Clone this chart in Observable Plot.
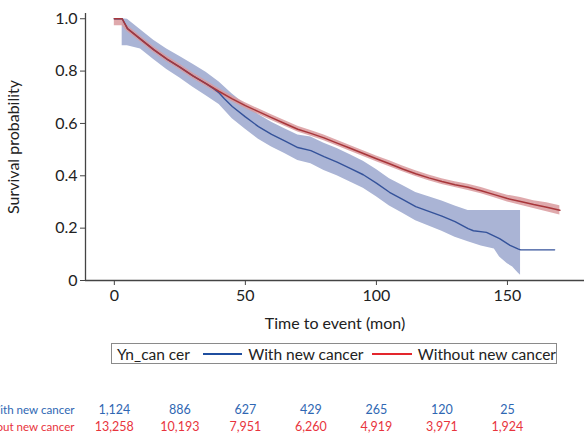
<!DOCTYPE html>
<html>
<head>
<meta charset="utf-8">
<script src="https://cdn.jsdelivr.net/npm/d3@7"></script>
<script src="https://cdn.jsdelivr.net/npm/@observablehq/plot@0.6"></script>
<style>
  html, body { margin: 0; padding: 0; background: #fff; }
  #wrap { position: relative; width: 584px; height: 434px; overflow: hidden; font-family: Lato, sans-serif; }
  #main { position: absolute; left: 0; top: 0; }
  #risk { position: absolute; left: 0; top: 395px; }
  #legend { position: absolute; left: 111px; top: 343px; width: 444px; height: 19px;
    border: 1.5px solid #8a8a8a; display: flex; align-items: center; font-size: 15.5px; color: #222;
    box-sizing: content-box; white-space: nowrap; }
  #legend .sw { display: inline-block; width: 48px; height: 2px; }
</style>
</head>
<body>
<div id="wrap">
  <div id="main"></div>
  <div id="legend"></div>
  <div id="risk"></div>
</div>
<script>
// ---- Data ----
const xTicks = [0, 50, 100, 150];
const yTicks = [0, 0.2, 0.4, 0.6, 0.8, 1.0];
const xDomain = [-11, 179.4];
const yDomain = [0, 1.02];

const legendTitle = "Yn_can cer";
const groupNames = ["With new cancer", "Without new cancer"];

// With new cancer: KM estimate
const blueTime = [0,3,5,10,15,20,25,30,35,38,40,42,45,50,55,60,65,70,75,80,85,90,95,100,105,110,115,120,125,130,135,137,142,147,151,154,155,168];
const blueSurv = [1,1,0.963,0.922,0.882,0.846,0.815,0.782,0.752,0.732,0.716,0.694,0.665,0.625,0.588,0.558,0.533,0.508,0.496,0.473,0.452,0.428,0.404,0.372,0.337,0.31,0.282,0.264,0.246,0.225,0.198,0.19,0.184,0.16,0.134,0.121,0.117,0.117];
// With new cancer: confidence band
const blueBandTime = [3,5,10,15,20,25,30,35,40,45,50,55,60,65,70,75,80,85,90,95,100,105,110,115,120,125,130,135,140,145,147,150,152,154,155];
const blueLower = [0.897,0.897,0.884,0.844,0.806,0.774,0.738,0.706,0.672,0.618,0.578,0.54,0.51,0.485,0.458,0.446,0.42,0.4,0.376,0.352,0.32,0.285,0.257,0.228,0.208,0.188,0.165,0.148,0.132,0.12,0.09,0.064,0.052,0.03,0.02];
const blueUpper = [1.0,0.998,0.958,0.918,0.884,0.856,0.826,0.796,0.758,0.712,0.672,0.634,0.605,0.58,0.556,0.548,0.524,0.504,0.48,0.456,0.424,0.389,0.363,0.336,0.32,0.304,0.285,0.267,0.267,0.267,0.267,0.267,0.267,0.267,0.267];

// Without new cancer: KM estimate and band
const redTime = [0,3,5,10,15,20,25,30,35,40,45,50,55,60,65,70,75,80,85,90,95,100,105,110,115,120,125,130,135,140,145,150,155,160,165,170];
const redSurv = [1,1,0.962,0.922,0.882,0.847,0.815,0.782,0.752,0.722,0.694,0.668,0.645,0.622,0.6,0.578,0.562,0.545,0.525,0.505,0.485,0.465,0.446,0.426,0.408,0.392,0.378,0.366,0.356,0.343,0.328,0.313,0.302,0.29,0.28,0.268];
const redLower = [0.973,0.973,0.95,0.911,0.871,0.836,0.804,0.771,0.741,0.711,0.683,0.657,0.634,0.611,0.589,0.567,0.551,0.534,0.514,0.494,0.474,0.454,0.435,0.415,0.397,0.381,0.367,0.355,0.344,0.331,0.316,0.3,0.287,0.275,0.263,0.25];
const redUpper = [1.0,1.0,0.974,0.933,0.893,0.858,0.826,0.793,0.763,0.733,0.705,0.679,0.656,0.633,0.611,0.589,0.573,0.556,0.536,0.516,0.496,0.476,0.457,0.437,0.419,0.403,0.389,0.377,0.368,0.355,0.34,0.326,0.317,0.305,0.297,0.286];

// Numbers at risk
const riskTimes = [0, 25, 50, 75, 100, 125, 150];
const riskWith = ["1,124", "886", "627", "429", "265", "120", "25"];
const riskWithout = ["13,258", "10,193", "7,951", "6,260", "4,919", "3,971", "1,924"];

// ---- Styles ----
const blueLine = "#34529a", blueBand = "#aab4d5";
const redLine = "#a8363a", redBand = "#d99a9d";
const legendBlue = "#1f4e9f", legendRed = "#e3262d";
const riskBlue = "#2f67b3", riskRed = "#e8343d";

// ---- Build tables ----
const blueKM = blueTime.map((t, i) => ({t, s: blueSurv[i]}));
const blueCI = blueBandTime.map((t, i) => ({t, lo: blueLower[i], hi: blueUpper[i]}));
const redKM = redTime.map((t, i) => ({t, s: redSurv[i]}));
const redCI = redTime.map((t, i) => ({t, lo: redLower[i], hi: redUpper[i]}));

const main = Plot.plot({
  width: 584,
  height: 340,
  marginLeft: 85,
  marginRight: 0,
  marginTop: 13,
  marginBottom: 60,
  style: {fontFamily: "Lato, sans-serif", fontSize: "16px", color: "#222", background: "white"},
  x: {domain: xDomain},
  y: {domain: yDomain},
  marks: [
    Plot.areaY(blueCI, {x: "t", y1: "lo", y2: "hi", fill: blueBand, fillOpacity: 1}),
    Plot.areaY(redCI, {x: "t", y1: "lo", y2: "hi", fill: redBand, fillOpacity: 0.85}),
    Plot.line(blueKM, {x: "t", y: "s", stroke: blueLine, strokeWidth: 1.4}),
    Plot.line(redKM, {x: "t", y: "s", stroke: redLine, strokeWidth: 1.5}),
    Plot.ruleY([yDomain[0]], {stroke: "#444", strokeWidth: 1.3}),
    Plot.ruleX([xDomain[0]], {stroke: "#444", strokeWidth: 1.3}),
    Plot.axisX({ticks: xTicks, tickSize: 5, tickPadding: 4, stroke: "#444", fontSize: 16, label: "Time to event (mon)", labelAnchor: "center", labelArrow: "none", labelOffset: 48}),
    Plot.axisY({ticks: yTicks, tickSize: 5, tickPadding: 3, stroke: "#444", fontSize: 16, tickFormat: d => d === 0 ? "0" : d.toFixed(1), label: "Survival probability", labelAnchor: "center", labelArrow: "none", labelOffset: 78})
  ]
});
document.getElementById("main").appendChild(main);

// Legend
const lg = document.getElementById("legend");
lg.innerHTML = `<span style="margin-left:5px">${legendTitle}</span>
  <span class="sw" style="background:${legendBlue};margin-left:13px"></span>
  <span style="margin-left:6px">${groupNames[0]}</span>
  <span class="sw" style="background:${legendRed};margin-left:9px"></span>
  <span style="margin-left:6px">${groupNames[1]}</span>`;

// Risk table
const riskRows = [];
riskTimes.forEach((t, i) => {
  riskRows.push({t, g: groupNames[0], n: riskWith[i]});
  riskRows.push({t, g: groupNames[1], n: riskWithout[i]});
});
const risk = Plot.plot({
  width: 584,
  height: 42,
  marginLeft: 85,
  marginRight: 0,
  marginTop: 6,
  marginBottom: 2,
  style: {fontFamily: "Lato, sans-serif", fontSize: "12.5px", background: "white"},
  x: {domain: xDomain, axis: null},
  y: {domain: groupNames, type: "band", padding: 0},
  marks: [
    Plot.text(riskRows, {x: "t", y: "g", text: "n", fill: d => d.g === groupNames[0] ? riskBlue : riskRed, fontSize: 12.5}),
    Plot.axisY({tickSize: 0, tickPadding: 11, label: null, fill: d => d === groupNames[0] ? riskBlue : riskRed, fontSize: 11.6})
  ]
});
document.getElementById("risk").appendChild(risk);
</script>
</body>
</html>
